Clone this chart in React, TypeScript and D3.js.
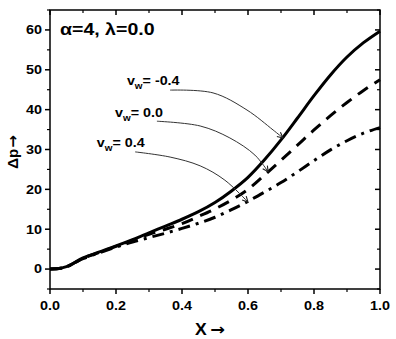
import React from "react";
import * as d3 from "d3";

const xs = [0, 0.02, 0.05, 0.1, 0.15, 0.2, 0.25, 0.3, 0.35, 0.4, 0.45, 0.5, 0.55, 0.6, 0.65, 0.7, 0.75, 0.8, 0.85, 0.9, 0.95, 1.0];
const dpNeg04 = [0, 0.05, 0.6, 2.8, 4.3, 5.8, 7.4, 9.1, 10.8, 12.5, 14.4, 16.7, 19.6, 23.0, 27.4, 32.4, 37.9, 43.5, 48.7, 53.2, 56.8, 59.7];
const dp00 = [0, 0.05, 0.6, 2.7, 4.2, 5.7, 7.2, 8.7, 10.0, 11.4, 13.2, 15.1, 17.3, 20.0, 23.6, 27.3, 31.1, 34.9, 38.5, 41.8, 44.8, 47.5];
const dp04 = [0, 0.05, 0.6, 2.6, 4.1, 5.5, 6.8, 7.9, 9.0, 10.2, 11.5, 13.0, 14.9, 17.0, 19.3, 21.7, 24.4, 27.2, 29.9, 32.2, 34.1, 35.5];

const xMajor = [0, 0.2, 0.4, 0.6, 0.8, 1.0];
const xMinor = [0.1, 0.3, 0.5, 0.7, 0.9];
const yMajor = [0, 10, 20, 30, 40, 50, 60];
const yMinor = [-5, 5, 15, 25, 35, 45, 55, 65];

const labels = ["-0.4", "0.0", "0.4"];
// annotation label anchors and leader paths (data coordinates)
const labelPos = [[0.233, 46.2], [0.197, 38.2], [0.142, 30.6]];
const leader1 = [[0.364, 44.9], [0.494, 44.2], [0.597, 39.9], [0.676, 34.9], [0.706, 32.9]];
const leader2 = [[0.324, 37.1], [0.455, 35.9], [0.545, 32.9], [0.621, 28.6], [0.661, 24.4]];
const leader3 = [[0.258, 29.4], [0.364, 28.1], [0.455, 25.9], [0.530, 22.3], [0.6, 16.8]];

const W = 396, H = 339;
const L = 50, R = 380, T = 10, B = 289;

export default function App() {
  const x = d3.scaleLinear().domain([0, 1]).range([L, R]);
  const y = d3.scaleLinear().domain([-5, 65]).range([B, T]);
  const line = d3.line<number>().x((_, i) => x(xs[i])).y((d) => y(d)).curve(d3.curveMonotoneX);
  const lead = d3.line<number[]>().x((d) => x(d[0])).y((d) => y(d[1])).curve(d3.curveCatmullRom);
  const font = "'Liberation Sans', Arial, sans-serif";
  const arrowFont = "'DejaVu Sans', sans-serif";
  const sx = 1.2;
  const leaders = [leader1, leader2, leader3];

  return (
    <svg width={W} height={H} style={{ position: "absolute", left: 0, top: 0, background: "#fff" }} fontFamily={font}>
      <defs>
        <marker id="arr" viewBox="0 0 10 10" refX="9" refY="5" markerWidth="7" markerHeight="7" orient="auto" markerUnits="userSpaceOnUse">
          <path d="M1,1 L9,5 L1,9" fill="none" stroke="#222" strokeWidth="1.6" />
        </marker>
      </defs>
      <rect x={0} y={0} width={W} height={H} fill="#fff" />
      {/* curves */}
      <path d={line(dpNeg04) || ""} fill="none" stroke="#000" strokeWidth={3} />
      <path d={line(dp00) || ""} fill="none" stroke="#000" strokeWidth={3} strokeDasharray="12,8" />
      <path d={line(dp04) || ""} fill="none" stroke="#000" strokeWidth={3} strokeDasharray="12,6,3,6" />
      {/* leaders */}
      {leaders.map((l, i) => (
        <path key={i} d={lead(l) || ""} fill="none" stroke="#333" strokeWidth={1} markerEnd="url(#arr)" />
      ))}
      {labels.map((t, i) => (
        <text key={t} transform={`translate(${x(labelPos[i][0])},${y(labelPos[i][1])}) scale(1.1,1)`} fontSize={13} fontWeight="bold" fill="#000">
          v<tspan fontSize={9} dy={4}>w</tspan><tspan dy={-4}>= {t}</tspan>
        </text>
      ))}
      {/* frame */}
      <rect x={L} y={T} width={R - L} height={B - T} fill="none" stroke="#000" strokeWidth={1.5} />
      {/* bottom ticks (outward) and top ticks (inward) */}
      {xMajor.map((v) => (
        <g key={"xM" + v}>
          <line x1={x(v)} x2={x(v)} y1={B} y2={B + 5} stroke="#000" strokeWidth={1.5} />
          <line x1={x(v)} x2={x(v)} y1={T} y2={T + 5} stroke="#000" strokeWidth={1.5} />
          <text transform={`translate(${x(v)},${B + 21}) scale(${sx},1)`} textAnchor="middle" fontSize={12} fontWeight="bold">{v.toFixed(1)}</text>
        </g>
      ))}
      {xMinor.map((v) => (
        <g key={"xm" + v}>
          <line x1={x(v)} x2={x(v)} y1={B} y2={B + 3} stroke="#000" strokeWidth={1.2} />
          <line x1={x(v)} x2={x(v)} y1={T} y2={T + 3} stroke="#000" strokeWidth={1.2} />
        </g>
      ))}
      {yMajor.map((v) => (
        <g key={"yM" + v}>
          <line x1={L - 5} x2={L} y1={y(v)} y2={y(v)} stroke="#000" strokeWidth={1.5} />
          <line x1={R - 5} x2={R} y1={y(v)} y2={y(v)} stroke="#000" strokeWidth={1.5} />
          <text transform={`translate(${L - 8},${y(v) + 4.3}) scale(${sx},1)`} textAnchor="end" fontSize={12} fontWeight="bold">{v}</text>
        </g>
      ))}
      {yMinor.map((v) => (
        <g key={"ym" + v}>
          <line x1={L - 3} x2={L} y1={y(v)} y2={y(v)} stroke="#000" strokeWidth={1.2} />
          <line x1={R - 3} x2={R} y1={y(v)} y2={y(v)} stroke="#000" strokeWidth={1.2} />
        </g>
      ))}
      {/* title */}
      <text transform={`translate(60,35) scale(1.15,1)`} fontSize={17} fontWeight="bold">α=4, λ=0.0</text>
      {/* axis labels */}
      <text transform={`translate(210,335) scale(1.1,1)`} textAnchor="middle" fontSize={16} fontWeight="bold">X<tspan fontFamily={arrowFont} dx={3}>→</tspan></text>
      <text transform={`translate(18,152) rotate(-90)`} textAnchor="middle" fontSize={15} fontWeight="bold">Δp<tspan fontFamily={arrowFont} dx={1}>→</tspan></text>
    </svg>
  );
}
